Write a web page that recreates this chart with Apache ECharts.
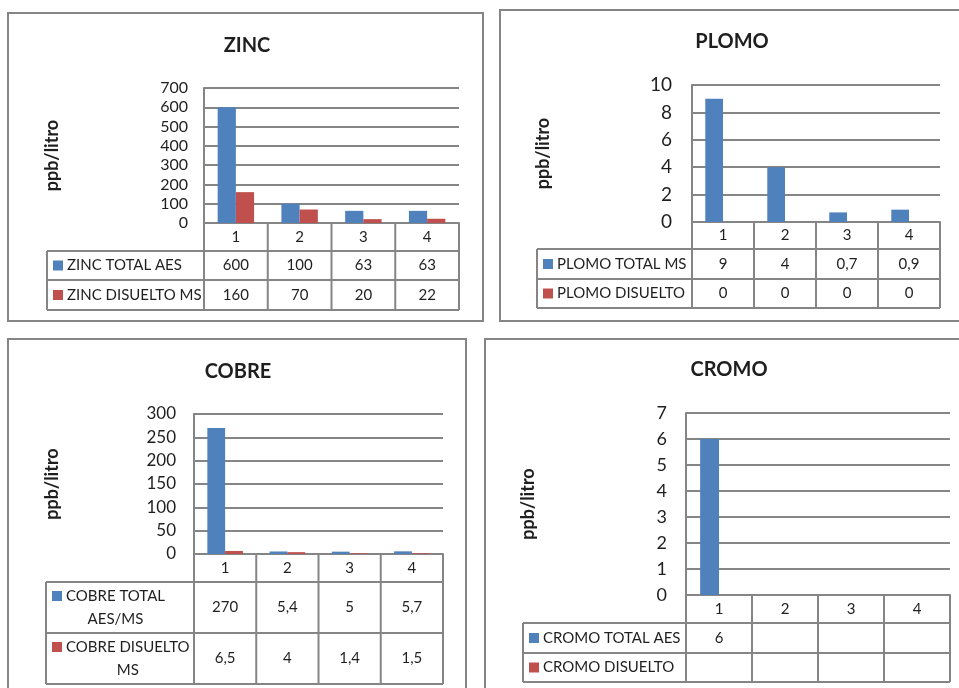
<!DOCTYPE html>
<html>
<head>
<meta charset="utf-8">
<script src="https://cdn.jsdelivr.net/npm/echarts@6/dist/echarts.min.js"></script>
<style>
  html, body { margin: 0; padding: 0; background: #ffffff; }
  #chart { width: 959px; height: 688px; }
</style>
</head>
<body>
<div id="chart"></div>
<script>
// ---- data ----
const categories = ['1', '2', '3', '4'];

const zincNames = ['ZINC TOTAL AES', 'ZINC DISUELTO MS'];
const zincTotal = [600, 100, 63, 63];
const zincDisuelto = [160, 70, 20, 22];
const zincAxis = { max: 700, interval: 100 };

const plomoNames = ['PLOMO TOTAL MS', 'PLOMO DISUELTO'];
const plomoTotal = [9, 4, 0.7, 0.9];
const plomoDisuelto = [0, 0, 0, 0];
const plomoAxis = { max: 10, interval: 2 };

const cobreNames = ['COBRE TOTAL\nAES/MS', 'COBRE DISUELTO\nMS'];
const cobreTotal = [270, 5.4, 5, 5.7];
const cobreDisuelto = [6.5, 4, 1.4, 1.5];
const cobreAxis = { max: 300, interval: 50 };

const cromoNames = ['CROMO TOTAL AES', 'CROMO DISUELTO'];
const cromoTotal = [6, null, null, null];
const cromoDisuelto = [null, null, null, null];
const cromoAxis = { max: 7, interval: 1 };

const yTitle = 'ppb/litro';

// ---- styling & layout ----
const seriesColors = ['#4F81BD', '#C0504D'];
const lineColor = '#858585';
const textColor = '#1f1f1f';
const FONT = 'Lato, "Noto Sans", sans-serif';

const panels = [
  { title: 'ZINC', names: zincNames, values: [zincTotal, zincDisuelto], axis: zincAxis,
    frame: [8, 13, 483, 321], titleAt: [247, 46], plot: [204, 88, 459, 223],
    rows: [251, 280, 310], tableLeft: 47, yTitleX: 52, tickSize: 16, tickGap: 16, textSize: 15 },
  { title: 'PLOMO', names: plomoNames, values: [plomoTotal, plomoDisuelto], axis: plomoAxis,
    frame: [500, 10, 980, 321], titleAt: [732, 42], plot: [692, 85, 940, 222],
    rows: [249, 279, 308], tableLeft: 537, yTitleX: 543, tickSize: 19, tickGap: 20, textSize: 15 },
  { title: 'COBRE', names: cobreNames, values: [cobreTotal, cobreDisuelto], axis: cobreAxis,
    frame: [8, 339, 466, 710], titleAt: [238, 372], plot: [194, 414, 443, 554],
    rows: [582, 633, 684], tableLeft: 46, yTitleX: 52, tickSize: 17, tickGap: 18, textSize: 15 },
  { title: 'CROMO', names: cromoNames, values: [cromoTotal, cromoDisuelto], axis: cromoAxis,
    frame: [485, 339, 980, 710], titleAt: [729, 370], plot: [686, 413, 950, 595],
    rows: [623, 653, 682], tableLeft: 523, yTitleX: 528, tickSize: 18, tickGap: 19, textSize: 15 }
];

const fmt = v => (v == null ? '' : String(v).replace('.', ','));

const measureCtx = document.createElement('canvas').getContext('2d');
function textWidth(str, size) {
  measureCtx.font = size + 'px ' + FONT;
  return measureCtx.measureText(str).width;
}

const grids = [], xAxes = [], yAxes = [], series = [], graphics = [];

function line(x1, y1, x2, y2) {
  graphics.push({
    type: 'line', silent: true,
    shape: { x1, y1, x2, y2 },
    style: { stroke: lineColor, lineWidth: 2 }
  });
}
function text(str, x, y, opts) {
  graphics.push({
    type: 'text', silent: true, x, y,
    rotation: opts.rotation || 0,
    style: {
      text: str, fill: textColor, fontFamily: FONT,
      fontSize: opts.size, fontWeight: opts.weight || 'normal',
      align: opts.align || 'center', verticalAlign: 'middle',
      lineHeight: opts.lineHeight
    }
  });
}

panels.forEach((p, i) => {
  const [l, t, r, b] = p.plot;
  const w = r - l;

  grids.push({ left: l, top: t, width: w, height: b - t, containLabel: false });

  xAxes.push({
    type: 'category', gridIndex: i, data: categories,
    axisLine: { show: true, lineStyle: { color: lineColor, width: 2 } },
    axisTick: { show: false },
    splitLine: { show: false },
    axisLabel: {
      margin: (p.rows[0] - b) / 2, verticalAlign: 'middle',
      fontFamily: FONT, fontSize: p.textSize, color: textColor
    }
  });

  yAxes.push({
    type: 'value', gridIndex: i, min: 0, max: p.axis.max, interval: p.axis.interval,
    axisLine: { show: true, lineStyle: { color: lineColor, width: 2 } },
    axisTick: { show: false },
    splitLine: { show: true, lineStyle: { color: lineColor, width: 2 } },
    axisLabel: {
      margin: p.tickGap, fontFamily: FONT, fontSize: p.tickSize, color: textColor
    }
  });

  p.values.forEach((vals, k) => {
    series.push({
      type: 'bar', name: p.names[k], xAxisIndex: i, yAxisIndex: i,
      data: vals, barGap: '0%', barCategoryGap: '42.86%',
      itemStyle: { color: seriesColors[k] }, silent: true
    });
  });

  // panel frame
  const [fx1, fy1, fx2, fy2] = p.frame;
  graphics.push({
    type: 'rect', silent: true,
    shape: { x: fx1, y: fy1, width: fx2 - fx1, height: fy2 - fy1 },
    style: { fill: 'none', stroke: lineColor, lineWidth: 2 }
  });

  // titles
  text(p.title, p.titleAt[0], p.titleAt[1], { size: 20, weight: 'bold' });
  text(yTitle, p.yTitleX, (t + b) / 2, { size: 18, weight: 'bold', rotation: Math.PI / 2 });

  // data table grid
  const [r0, r1, r2] = p.rows;
  [r0, r1, r2].forEach(y => line(p.tableLeft, y, r, y));
  line(p.tableLeft, r0, p.tableLeft, r2);
  for (let c = 0; c <= categories.length; c++) {
    const x = l + (c * w) / categories.length;
    line(x, b, x, r2);
  }

  // legend keys, series names and values
  const rowBands = [[r0, r1], [r1, r2]];
  p.names.forEach((name, k) => {
    const [ya, yb] = rowBands[k];
    const cy = (ya + yb) / 2;
    const lines = name.split('\n');
    const lh = 23;
    const firstY = cy - ((lines.length - 1) * lh) / 2;
    graphics.push({
      type: 'rect', silent: true,
      shape: { x: p.tableLeft + 6, y: firstY - 5, width: 10, height: 10 },
      style: { fill: seriesColors[k] }
    });
    const startX = p.tableLeft + 20;
    if (lines.length === 1) {
      text(name, startX, cy, { size: p.textSize, align: 'left' });
    } else {
      const cx = startX + textWidth(lines[0], p.textSize) / 2;
      text(name, cx, cy, { size: p.textSize, align: 'center', lineHeight: lh });
    }
    p.values[k].forEach((v, c) => {
      const x = l + ((c + 0.5) * w) / categories.length;
      text(fmt(v), x, cy, { size: p.textSize });
    });
  });
});

const chart = echarts.init(document.getElementById('chart'), null, { renderer: 'canvas' });
chart.setOption({
  animation: false,
  backgroundColor: '#ffffff',
  grid: grids,
  xAxis: xAxes,
  yAxis: yAxes,
  series: series,
  graphic: graphics
});
</script>
</body>
</html>
